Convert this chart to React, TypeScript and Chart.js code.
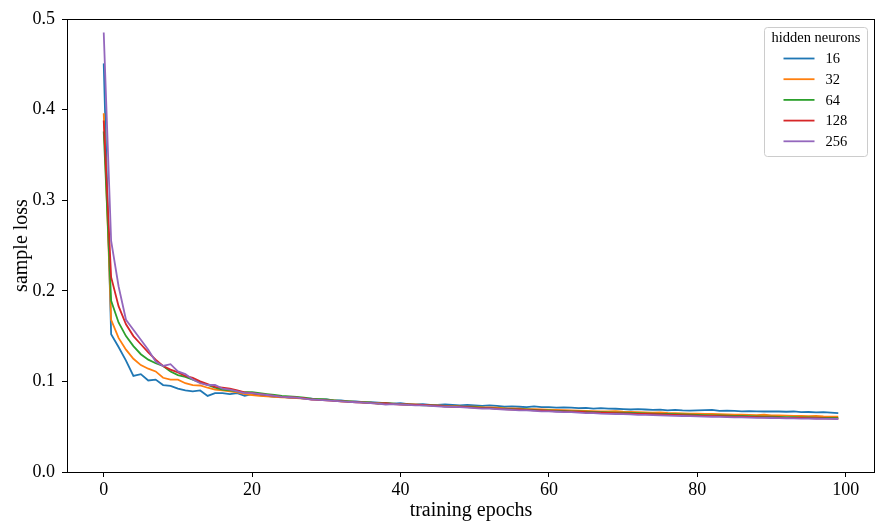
import React, { useEffect, useRef } from "react";
import { Chart, registerables } from "chart.js";

Chart.register(...registerables);

// ---- data ----
const epochs: number[] = Array.from({ length: 100 }, (_, i) => i);
const neuronLabels = ["16", "32", "64", "128", "256"];
const lineColors = ["#1f77b4", "#ff7f0e", "#2ca02c", "#d62728", "#9467bd"];

const loss16 = [
  0.451, 0.152, 0.138, 0.123, 0.106, 0.108, 0.101, 0.102, 0.096, 0.095,
  0.092, 0.090, 0.089, 0.090, 0.084, 0.087, 0.087, 0.086, 0.087, 0.084,
  0.086, 0.085, 0.084, 0.083, 0.083, 0.082, 0.082, 0.081, 0.081, 0.080,
  0.080, 0.079, 0.079, 0.078, 0.078, 0.077, 0.077, 0.0765, 0.076, 0.0755,
  0.076, 0.075, 0.0745, 0.075, 0.074, 0.074, 0.0745, 0.074, 0.0735, 0.074,
  0.0735, 0.073, 0.0735, 0.073, 0.072, 0.0725, 0.072, 0.0715, 0.0725, 0.0715,
  0.0715, 0.071, 0.0712, 0.071, 0.0705, 0.0708, 0.070, 0.0705, 0.070, 0.0698,
  0.0695, 0.069, 0.0695, 0.069, 0.0685, 0.0688, 0.068, 0.0685, 0.068, 0.0678,
  0.068, 0.0682, 0.0685, 0.0675, 0.0678, 0.0675, 0.067, 0.0672, 0.067, 0.0668,
  0.067, 0.0668, 0.0665, 0.0668, 0.066, 0.0662, 0.0658, 0.066, 0.0655, 0.065,
];

const loss32 = [
  0.396, 0.168, 0.148, 0.135, 0.125, 0.118, 0.114, 0.111, 0.104, 0.102,
  0.102, 0.098, 0.096, 0.0955, 0.093, 0.091, 0.090, 0.089, 0.088, 0.086,
  0.085, 0.084, 0.0835, 0.083, 0.0825, 0.082, 0.0815, 0.081, 0.0805, 0.080,
  0.0795, 0.079, 0.078, 0.078, 0.0775, 0.077, 0.0765, 0.076, 0.0755, 0.0755,
  0.075, 0.0745, 0.0745, 0.074, 0.0735, 0.0735, 0.073, 0.073, 0.0725, 0.0722,
  0.072, 0.0715, 0.0712, 0.071, 0.0705, 0.0703, 0.070, 0.0695, 0.0693, 0.069,
  0.0688, 0.0685, 0.0682, 0.068, 0.0678, 0.0675, 0.0672, 0.067, 0.0668, 0.0672,
  0.0665, 0.0662, 0.066, 0.0658, 0.0655, 0.0658, 0.0652, 0.065, 0.0648, 0.0645,
  0.0645, 0.0642, 0.064, 0.0638, 0.0636, 0.0634, 0.0632, 0.063, 0.0628, 0.0632,
  0.0626, 0.0624, 0.0622, 0.062, 0.0618, 0.0616, 0.0618, 0.0614, 0.0612, 0.061,
];

const loss64 = [
  0.376, 0.189, 0.165, 0.150, 0.139, 0.130, 0.124, 0.120, 0.117, 0.111,
  0.107, 0.105, 0.102, 0.099, 0.096, 0.093, 0.091, 0.090, 0.089, 0.088,
  0.088, 0.087, 0.086, 0.085, 0.084, 0.0835, 0.083, 0.082, 0.081, 0.0805,
  0.080, 0.079, 0.0785, 0.078, 0.0775, 0.077, 0.0765, 0.0755, 0.076, 0.0755,
  0.075, 0.0745, 0.074, 0.0735, 0.0735, 0.073, 0.0725, 0.0725, 0.072, 0.0715,
  0.0715, 0.071, 0.0705, 0.070, 0.070, 0.0695, 0.069, 0.069, 0.0685, 0.068,
  0.068, 0.0675, 0.0675, 0.067, 0.0668, 0.0665, 0.0662, 0.066, 0.0658, 0.0655,
  0.0655, 0.0652, 0.065, 0.0648, 0.0645, 0.0642, 0.064, 0.0638, 0.0635, 0.0633,
  0.063, 0.0628, 0.0626, 0.0625, 0.0623, 0.062, 0.0618, 0.0616, 0.0614, 0.0612,
  0.061, 0.0608, 0.0606, 0.0605, 0.0603, 0.0602, 0.060, 0.0598, 0.0597, 0.0596,
];

const loss128 = [
  0.388, 0.215, 0.183, 0.163, 0.150, 0.141, 0.132, 0.124, 0.117, 0.113,
  0.110, 0.106, 0.104, 0.100, 0.097, 0.094, 0.093, 0.092, 0.090, 0.088,
  0.087, 0.086, 0.085, 0.084, 0.083, 0.0825, 0.082, 0.0815, 0.080, 0.0795,
  0.079, 0.0785, 0.078, 0.0775, 0.077, 0.0765, 0.076, 0.0755, 0.076, 0.075,
  0.0745, 0.0745, 0.074, 0.074, 0.0735, 0.073, 0.0725, 0.072, 0.072, 0.0715,
  0.071, 0.0705, 0.0705, 0.070, 0.0695, 0.069, 0.069, 0.0685, 0.068, 0.068,
  0.0675, 0.067, 0.067, 0.0665, 0.0665, 0.066, 0.0658, 0.0655, 0.0652, 0.065,
  0.0648, 0.0645, 0.0642, 0.064, 0.0638, 0.0635, 0.0632, 0.063, 0.0628, 0.0625,
  0.0622, 0.062, 0.0618, 0.0616, 0.0614, 0.0612, 0.061, 0.0608, 0.0606, 0.0604,
  0.0602, 0.060, 0.0598, 0.0597, 0.0596, 0.0594, 0.0593, 0.0592, 0.059, 0.0588,
];

const loss256 = [
  0.485, 0.255, 0.205, 0.168, 0.157, 0.146, 0.135, 0.122, 0.117, 0.119,
  0.111, 0.108, 0.102, 0.098, 0.096, 0.096, 0.092, 0.091, 0.089, 0.087,
  0.087, 0.086, 0.085, 0.084, 0.083, 0.0825, 0.082, 0.081, 0.080, 0.0795,
  0.079, 0.0785, 0.078, 0.0775, 0.077, 0.0765, 0.076, 0.0755, 0.0745, 0.075,
  0.0745, 0.074, 0.0735, 0.0735, 0.073, 0.0725, 0.072, 0.072, 0.0715, 0.071,
  0.0705, 0.070, 0.070, 0.0695, 0.069, 0.0685, 0.068, 0.068, 0.0675, 0.067,
  0.067, 0.0665, 0.066, 0.066, 0.0655, 0.065, 0.065, 0.0645, 0.0642, 0.064,
  0.0638, 0.0635, 0.063, 0.063, 0.0628, 0.0625, 0.0622, 0.062, 0.0618, 0.0616,
  0.0614, 0.0612, 0.061, 0.0608, 0.0606, 0.0604, 0.0602, 0.060, 0.0598, 0.0597,
  0.0596, 0.0594, 0.0593, 0.0592, 0.059, 0.0589, 0.0588, 0.0587, 0.0586, 0.0585,
];

const seriesValues = [loss16, loss32, loss64, loss128, loss256];
const xTickValues = [0, 20, 40, 60, 80, 100];
const yTickValues = [0.0, 0.1, 0.2, 0.3, 0.4, 0.5];
const xTitle = "training epochs";
const yTitle = "sample loss";
const legendTitle = "hidden neurons";

const SERIF = '"Liberation Serif", "Times New Roman", serif';

const framePlugin = {
  id: "frameBox",
  afterDatasetsDraw(chart: any) {
    const { ctx, chartArea } = chart;
    ctx.save();
    ctx.strokeStyle = "#000";
    ctx.lineWidth = 1;
    ctx.strokeRect(
      Math.round(chartArea.left) + 0.5,
      Math.round(chartArea.top) + 0.5,
      Math.round(chartArea.right - chartArea.left) - 1,
      Math.round(chartArea.bottom - chartArea.top)
    );
    ctx.restore();
  },
};

const legendPlugin = {
  id: "mplLegend",
  afterDraw(chart: any) {
    const { ctx, chartArea } = chart;
    const w = 103;
    const h = 129;
    const x = Math.round(chartArea.right - 8 - w) + 0.5;
    const y = Math.round(chartArea.top + 8) + 0.5;
    ctx.save();
    ctx.beginPath();
    if (ctx.roundRect) ctx.roundRect(x, y, w, h, 3);
    else ctx.rect(x, y, w, h);
    ctx.fillStyle = "rgba(255,255,255,0.8)";
    ctx.fill();
    ctx.strokeStyle = "#cccccc";
    ctx.lineWidth = 1;
    ctx.stroke();

    ctx.fillStyle = "#000";
    ctx.font = `14.5px ${SERIF}`;
    ctx.textAlign = "center";
    ctx.textBaseline = "middle";
    ctx.fillText(legendTitle, x + w / 2, y + 11);

    chart.data.datasets.forEach((ds: any, i: number) => {
      const yy = y + 31 + i * 20.7;
      ctx.beginPath();
      ctx.strokeStyle = ds.borderColor;
      ctx.lineWidth = 1.8;
      ctx.moveTo(x + 19, yy);
      ctx.lineTo(x + 50, yy);
      ctx.stroke();
      ctx.fillStyle = "#000";
      ctx.textAlign = "left";
      ctx.fillText(ds.label, x + 61, yy + 1);
    });
    ctx.restore();
  },
};

export default function App() {
  const canvasRef = useRef<HTMLCanvasElement | null>(null);

  useEffect(() => {
    if (!canvasRef.current) return;
    const datasets = seriesValues.map((vals, i) => ({
      label: neuronLabels[i],
      data: epochs.map((e, j) => ({ x: e, y: vals[j] })),
      borderColor: lineColors[i],
      backgroundColor: lineColors[i],
      borderWidth: 1.8,
      pointRadius: 0,
      tension: 0,
      fill: false,
      order: seriesValues.length - 1 - i,
    }));

    const chart = new Chart(canvasRef.current, {
      type: "line",
      data: { datasets },
      options: {
        animation: false,
        responsive: false,
        devicePixelRatio: 1,
        layout: { padding: { top: 19, right: 1, left: 0, bottom: 0 } },
        plugins: {
          legend: { display: false },
          tooltip: { enabled: false },
        },
        scales: {
          x: {
            type: "linear",
            min: -4.95,
            max: 103.95,
            afterBuildTicks: (scale: any) => {
              scale.ticks = xTickValues.map((v) => ({ value: v }));
            },
            afterFit: (scale: any) => {
              scale.height = 51;
            },
            border: { display: false },
            grid: {
              display: true,
              drawOnChartArea: false,
              drawTicks: true,
              tickLength: 5,
              tickColor: "#000",
              tickWidth: 1,
            },
            ticks: {
              color: "#000",
              font: { family: SERIF, size: 18 },
              padding: 2,
              maxRotation: 0,
              autoSkip: false,
              callback: (v: any) => String(v),
            },
            title: {
              display: true,
              text: xTitle,
              color: "#000",
              font: { family: SERIF, size: 20 },
              padding: { top: 0, bottom: 0 },
            },
          },
          y: {
            type: "linear",
            min: 0,
            max: 0.5,
            afterBuildTicks: (scale: any) => {
              scale.ticks = yTickValues.map((v) => ({ value: v }));
            },
            afterFit: (scale: any) => {
              scale.width = 67;
            },
            border: { display: false },
            grid: {
              display: true,
              drawOnChartArea: false,
              drawTicks: true,
              tickLength: 5,
              tickColor: "#000",
              tickWidth: 1,
            },
            ticks: {
              color: "#000",
              font: { family: SERIF, size: 18 },
              padding: 7,
              autoSkip: false,
              callback: (v: any) => Number(v).toFixed(1),
            },
            title: {
              display: true,
              text: yTitle,
              color: "#000",
              font: { family: SERIF, size: 20 },
              padding: { top: 10, bottom: 0 },
            },
          },
        },
      } as any,
      plugins: [framePlugin, legendPlugin],
    });

    return () => chart.destroy();
  }, []);

  return (
    <div style={{ position: "absolute", left: 0, top: 0, width: 876, height: 523, background: "#fff" }}>
      <canvas ref={canvasRef} width={876} height={523} style={{ width: 876, height: 523, display: "block" }} />
    </div>
  );
}
